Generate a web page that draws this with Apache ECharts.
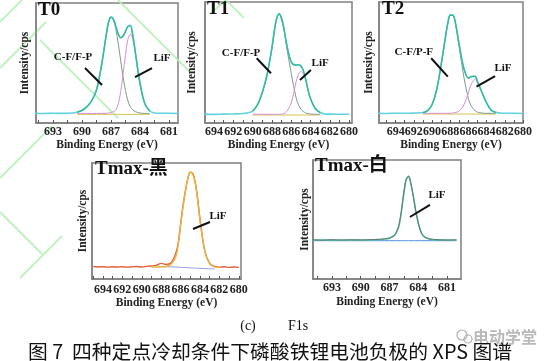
<!DOCTYPE html>
<html><head><meta charset="utf-8">
<script src="https://cdn.jsdelivr.net/npm/echarts@6/dist/echarts.min.js"></script>
<style>html,body{margin:0;padding:0;background:#fff}#c{width:558px;height:361px}</style>
</head><body><div id="c"></div>
<script>
// ---------------- DATA (binding energy in eV, intensity in % of panel height) ----------------
const E_T0 = [695,694,693,692,691,690.5,690,689.5,689,688.5,688,687.5,687.25,687,686.75,686.5,686.25,686,685.75,685.5,685.25,685,684.75,684.5,684,683.5,683,682.5,682,681,680];
const T0_RAW = [8.1,7.9,8.1,8,8.3,9,10.6,13.4,18.6,27.8,47.5,73,84.5,88.5,86.5,80.5,74.5,71,72.5,76.5,80.5,81.5,73.5,60,33.5,16,10.2,8.4,8.1,8.1,7.9];
const T0_FIT = [8,8,8,8,8.2,9,10.5,13.5,18.5,27.5,47,73,84,88,86.5,80.5,74,71,72.5,76.5,80.5,81,73,60,33,16,10,8.5,8.1,8,8];
const T0_CF  = [8,8,8,8,8.2,9,10.5,13.5,18.5,27.5,47,73,84,88,86,78,66,52,38,27,18.5,13.5,11,9.5,8.3,8,8,8,8,8,8];
const T0_LIF = [8,8,8,8,8,8,8,8,8,8,8,8.1,8.3,8.6,9.5,11,16,26,41,57,70,74,70,58,32,16,10,8.5,8.1,8,8];
const T0_BG  = [null,null,null,null,null,7.2,7.2,7.2,7.2,7.2,7.2,7.2,7.2,7.2,7.2,7.2,7.2,7.2,7.2,7.2,7.2,7.2,7.2,7.2,7.2,7.2,7.2,null,null,null,null];
const T0_LABELS = [681,684,687,690,693];
const T0_TICKS = [681,682.5,684,685.5,687,688.5,690,691.5,693,694.5];

const E_T1 = [695,694,693,692,691,690.5,690,689.5,689,688.5,688,687.75,687.5,687.25,687,686.75,686.5,686,685.5,685.25,685,684.75,684.5,684.25,684,683.5,683,682.5,682,681,680];
const T1_RAW = [7.3,7.1,7.3,7.5,7.8,8.5,9.9,15.2,25.5,40.5,62.5,76.5,87,90.5,86.5,78,66.5,50.5,48,48.3,47.3,43.5,36.3,27,20.2,12,8.7,7.5,7.3,7.2,7.2];
const T1_FIT = [7.2,7.2,7.3,7.4,7.9,8.4,9.8,15,25,40,62,76,86.5,90,86.5,78,66,50.5,47.8,48,47,43.5,36,27,20,11.8,8.6,7.6,7.3,7.2,7.2];
const T1_CF  = [7.2,7.2,7.3,7.4,7.9,8.4,9.8,15,25,40,62,76,86.5,90,85,77,64,41,21,15,11.5,9.5,8.3,7.7,7.4,7.2,7.2,7.2,7.2,7.2,7.2];
const T1_LIF = [7.2,7.2,7.2,7.2,7.2,7.2,7.2,7.2,7.2,7.2,7.2,7.2,7.2,7.25,7.3,7.8,9.2,16.5,34,40,42.5,41,35,26.5,19.8,11.8,8.6,7.6,7.3,7.2,7.2];
const T1_BG  = [null,null,null,null,null,null,6.6,6.6,6.6,6.6,6.6,6.6,6.6,6.6,6.6,6.6,6.6,6.6,6.6,6.6,6.6,6.6,6.6,6.6,6.6,6.6,6.6,null,null,null,null];
const T1_LABELS = [680,682,684,686,688,690,692,694];
const T1_TICKS = [680,681,682,683,684,685,686,687,688,689,690,691,692,693,694];

const E_T2 = [696,695,694,693,692,691,690.5,690,689.5,689,688.5,688.25,688,687.75,687.5,687,686.5,686,685.75,685.5,685.25,685,684.5,684,683.5,683,682.5,682,681,680];
const T2_RAW = [8.1,7.9,8.1,8,8.2,8.7,10.2,15.3,27.5,48.5,72.5,83.5,89.5,89.5,85.5,64.5,45.5,37.2,38.3,38.8,38.6,34.3,25.2,16.6,10.7,8.8,8.2,8,8.1,7.9];
const T2_FIT = [8,8,8,8,8.1,8.6,10,15,27,48,72,83,89,89,85.5,64,45,37,38,38.6,38.5,34,25,16.5,10.5,8.8,8.1,8,8,8];
const T2_CF  = [8,8,8,8,8.1,8.6,10,15,27,48,72,83,89,89,85,62,38,20,15,12,10,9,8.2,8,8,8,8,8,8,8];
const T2_LIF = [8,8,8,8,8,8,8,8,8,8,8,8,8,8.2,8.5,10,15,25,31,34.6,36.5,33,24.8,16.5,10.5,8.8,8.1,8,8,8];
const T2_BG  = [null,null,null,null,null,7.4,7.4,7.4,7.4,7.4,7.4,7.4,7.4,7.4,7.4,7.4,7.4,7.4,7.4,7.4,7.4,7.4,7.4,7.4,7.4,7.4,null,null,null,null];
const T2_LABELS = [680,682,684,686,688,690,692,694];
const T2_TICKS = [680,681,682,683,684,685,686,687,688,689,690,691,692,693,694,695];

const E_T3 = [695,694.5,694,693.5,693,692.5,692,691.5,691,690.5,690,689.5,689,688.5,688,687.5,687,686.5,686.25,686,685.75,685.5,685.25,685,684.75,684.5,684.25,684,683.5,683,682.5,682,681.5,681,680.5,680];
const T3_RAW = [10.8,10.4,10.6,10.2,10.5,10.3,10.6,10.2,10.5,10.8,10.4,10.9,11.2,11.8,13.5,12.6,13.8,22,30.5,47,63,76,86.5,92,91,84,70,52,24,13.5,10.8,10.2,10.5,10,10.3,10];
const T3_FIT = [10.3,10.3,10.3,10.3,10.3,10.3,10.3,10.3,10.3,10.3,10.3,10.3,10.3,10.3,10.4,10.8,12.5,19,29,46,62,76,87,92,90.5,83,69,51,24,13,10.5,10,10,10,10,10];
const T3_BG  = [null,null,null,null,null,null,null,null,null,null,null,null,null,null,10.7,10.6,10.5,10.3,10.2,10.1,10,9.9,9.75,9.6,9.5,9.4,9.3,9.2,9,8.8,8.7,null,null,null,null,null];
const T3_LABELS = [680,682,684,686,688,690,692,694];
const T3_TICKS = [680,681,682,683,684,685,686,687,688,689,690,691,692,693,694,695];

const E_T4 = [695,694,693,692,691,690,689,688.5,688,687.5,687,686.5,686.25,686,685.75,685.5,685.25,685,684.75,684.5,684.25,684,683.75,683.5,683,682.5,682,681,680];
const T4_RAW = [33,32.6,33,32.7,33,32.8,33.1,33.2,33.3,33.8,34.5,36.8,40,45.5,57.5,72.5,84,86.5,80,69,57,47,40.5,36.5,34,33.3,33,32.7,33];
const T4_FIT = [32.8,32.8,32.8,32.8,32.8,32.8,32.8,33,33.2,33.6,34.3,36.5,39.5,45,57,72,83.5,86,79.5,69,57,47.5,40.5,36.5,34,33.2,32.9,32.8,32.8];
const T4_BG  = [32.2,32.2,32.2,32.2,32.2,32.2,32.2,32.2,32.2,32.2,32.2,32.2,32.2,32.2,32.2,32.2,32.2,32.2,32.2,32.2,32.2,32.2,32.2,32.2,32.2,32.2,32.2,32.2,32.2];
const T4_LABELS = [681,684,687,690,693];
const T4_TICKS = [681,682.5,684,685.5,687,688.5,690,691.5,693,694.5];

// panel titles and annotations (annotation anchors in data units: [eV, %])
const TITLES = ['T0','T1','T2','Tmax-黑','Tmax-白'];
const ANNOTS = [
  {g:0, label:'C-F/F-P', text:[690.93,55], from:[689.69,45.8], to:[687.93,31.7]},
  {g:0, label:'LiF',     text:[681.73,54.2], from:[682.76,45.8], to:[684.52,38.3]},
  {g:1, label:'C-F/F-P', text:[691.2,57.9], from:[689.58,53.5], to:[688.1,41.1]},
  {g:1, label:'LiF',     text:[683.0,49.6], from:[683.96,43.8], to:[685.1,35.5]},
  {g:2, label:'C-F/P-F', text:[692.0,58.7], from:[690.09,53.5], to:[688.27,38.3]},
  {g:2, label:'LiF',     text:[682.2,45.5], from:[683.07,38.8], to:[685.11,30]},
  {g:3, label:'LiF',     text:[682.14,54.3], from:[682.97,49.1], to:[684.72,43.1]},
  {g:4, label:'LiF',     text:[682.04,70.6], from:[682.77,62.2], to:[684.86,52.1]}
];

// ---------------- LAYOUT / STYLE ----------------
const SERIF = '"Liberation Serif","Times New Roman","Noto Sans CJK SC",serif';
const CJK = '"Noto Sans CJK SC","Noto Sans",sans-serif';
const FRAME = '#808080';

const PANELS = [
  {grid:{left:36,top:3,width:142,height:120}, min:680.07, max:694.76, labels:T0_LABELS, ticks:T0_TICKS, yGap:5, lblMargin:3, xGap:16, title:[38,1]},
  {grid:{left:205,top:2,width:147,height:121}, min:679.7, max:694.94, labels:T1_LABELS, ticks:T1_TICKS, yGap:7, lblMargin:3, xGap:16, title:[207,0]},
  {grid:{left:379,top:2,width:144,height:121}, min:680, max:695.83, labels:T2_LABELS, ticks:T2_TICKS, yGap:4, lblMargin:3, xGap:16, title:[382,0]},
  {grid:{left:92,top:163,width:149,height:116}, min:679.77, max:695.13, labels:T3_LABELS, ticks:T3_TICKS, yGap:3, lblMargin:5, xGap:18, title:[95,160]},
  {grid:{left:313,top:160,width:148,height:119}, min:679.53, max:694.98, labels:T4_LABELS, ticks:T4_TICKS, yGap:2, lblMargin:3, xGap:17, title:[315,157]}
];

function pts(E, V, lo, hi) {
  const out = [];
  for (let i = 0; i < E.length; i++) {
    if (V[i] == null) continue;
    if (lo != null && (E[i] < lo || E[i] > hi)) continue;
    out.push([E[i], V[i]]);
  }
  return out;
}
function ser(g, data, color, width, z) {
  return {type:'line', xAxisIndex:g, yAxisIndex:g, data:data, showSymbol:false, symbol:'none',
    smooth:0.35, lineStyle:{color:color, width:width}, z:z, silent:true, animation:false, clip:true};
}

const series = [
  ser(0, pts(E_T0,T0_BG), '#d6c24a', 1, 2),
  ser(0, pts(E_T0,T0_CF,683,690.5), '#7f9a8c', 1, 3),
  ser(0, pts(E_T0,T0_LIF,683,690.5), '#d58fd6', 1, 3),
  ser(0, pts(E_T0,T0_RAW), '#62d2de', 1.6, 4),
  ser(0, pts(E_T0,T0_FIT,683,690.5), '#35b994', 1.3, 5),

  ser(1, pts(E_T1,T1_BG), '#d6c24a', 1, 2),
  ser(1, pts(E_T1,T1_CF,683,690), '#7f9a8c', 1, 3),
  ser(1, pts(E_T1,T1_LIF,683,690), '#d58fd6', 1, 3),
  ser(1, pts(E_T1,T1_RAW), '#62d2de', 1.6, 4),
  ser(1, pts(E_T1,T1_FIT,683,690), '#35b994', 1.3, 5),

  ser(2, pts(E_T2,T2_BG), '#d6c24a', 1, 2),
  ser(2, pts(E_T2,T2_CF,683,691), '#7f9a8c', 1, 3),
  ser(2, pts(E_T2,T2_LIF,683,691), '#d58fd6', 1, 3),
  ser(2, pts(E_T2,T2_RAW), '#62d2de', 1.6, 4),
  ser(2, pts(E_T2,T2_FIT,683,691), '#35b994', 1.3, 5),

  ser(3, pts(E_T3,T3_BG), '#9d9be6', 1, 2),
  ser(3, pts(E_T3,T3_RAW), '#e2603c', 1.4, 3),
  ser(3, pts(E_T3,T3_FIT,682,689), '#ebb43a', 1.4, 4),

  ser(4, pts(E_T4,T4_BG), '#4f8fe0', 1, 2),
  ser(4, pts(E_T4,T4_FIT), '#4fc3a0', 1.6, 3),
  ser(4, pts(E_T4,T4_RAW), '#66736c', 0.9, 4)
];

const grids = PANELS.map(p => Object.assign({show:true, borderColor:FRAME, borderWidth:1.5, containLabel:false}, p.grid));
const xAxes = PANELS.map((p,i) => ({
  type:'value', gridIndex:i, inverse:true, min:p.min, max:p.max,
  axisLine:{show:true, lineStyle:{color:FRAME, width:1.5}},
  axisTick:{show:true, inside:true, length:3, customValues:p.ticks, lineStyle:{color:'#555', width:1}},
  axisLabel:{show:true, customValues:p.labels, margin:p.lblMargin, fontFamily:SERIF, fontWeight:'bold', fontSize:12, color:'#222'},
  splitLine:{show:false},
  name:'Binding Energy (eV)', nameLocation:'middle', nameGap:p.xGap,
  nameTextStyle:{fontFamily:SERIF, fontWeight:'bold', fontSize:11.5, color:'#222'}
}));
const yAxes = PANELS.map((p,i) => ({
  type:'value', gridIndex:i, min:0, max:100,
  axisLine:{show:true, lineStyle:{color:FRAME, width:1.5}},
  axisTick:{show:false}, axisLabel:{show:false}, splitLine:{show:false},
  name:'Intensity/cps', nameLocation:'middle', nameRotate:90, nameGap:p.yGap,
  nameTextStyle:{fontFamily:SERIF, fontWeight:'bold', fontSize:11.5, color:'#222'}
}));

// background watermark lines (light green) and fixed captions
const WM_LINES = [[0,22,22,0],[0,68,46,22],[40,40,118,118],[118,0,190,72],[0,178,52,126],[0,212,42,254],[62,236,20,278],[210,14,226,0],[226,0,244,18]];
const staticGraphics = [];
WM_LINES.forEach(l => staticGraphics.push({type:'line', z:0, silent:true,
  shape:{x1:l[0],y1:l[1],x2:l[2],y2:l[3]}, style:{stroke:'#b6f0b6', lineWidth:2, opacity:0.85}}));
PANELS.forEach((p,i) => staticGraphics.push({type:'text', x:p.title[0], y:p.title[1], z:10,
  style:{text:TITLES[i], font:'bold 19px ' + SERIF, fill:'#111', textAlign:'left', textVerticalAlign:'top', align:'left', verticalAlign:'top'}}));
staticGraphics.push({type:'text', x:248, y:326, style:{text:'(c)', font:'14px ' + SERIF, fill:'#111', textAlign:'center', textVerticalAlign:'middle', align:'center', verticalAlign:'middle'}});
staticGraphics.push({type:'text', x:298, y:326, style:{text:'F1s', font:'14px ' + SERIF, fill:'#111', textAlign:'center', textVerticalAlign:'middle', align:'center', verticalAlign:'middle'}});
staticGraphics.push({type:'circle', shape:{cx:462, cy:335, r:5}, style:{fill:'none', stroke:'#b0b0b0', lineWidth:1.2}});
staticGraphics.push({type:'circle', shape:{cx:468, cy:339, r:4}, style:{fill:'none', stroke:'#b0b0b0', lineWidth:1.2}});
staticGraphics.push({type:'text', x:473, y:337, style:{text:'电动学堂', font:'bold 16px ' + CJK, fill:'#a8a8a8', opacity:0.8, textAlign:'left', textVerticalAlign:'middle', align:'left', verticalAlign:'middle'}});
staticGraphics.push({type:'text', x:28, y:351, z:20, style:{text:'图 7  四种定点冷却条件下磷酸铁锂电池负极的 XPS 图谱', font:'19.8px ' + CJK, fill:'#111', textAlign:'left', textVerticalAlign:'middle', align:'left', verticalAlign:'middle'}});

const chart = echarts.init(document.getElementById('c'), null, {renderer:'canvas'});
chart.setOption({
  animation:false, backgroundColor:'#fff',
  grid:grids, xAxis:xAxes, yAxis:yAxes, series:series,
  graphic:{elements:staticGraphics}
});

// annotations placed through the axes' own coordinate conversion
const ann = [];
ANNOTS.forEach(a => {
  const t = chart.convertToPixel({gridIndex:a.g}, a.text);
  const p1 = chart.convertToPixel({gridIndex:a.g}, a.from);
  const p2 = chart.convertToPixel({gridIndex:a.g}, a.to);
  ann.push({type:'text', x:t[0], y:t[1], z:10, style:{text:a.label, font:'bold 11px ' + SERIF, fill:'#111',
    textAlign:'center', textVerticalAlign:'middle', align:'center', verticalAlign:'middle'}});
  ann.push({type:'line', z:10, shape:{x1:p1[0], y1:p1[1], x2:p2[0], y2:p2[1]}, style:{stroke:'#111', lineWidth:2}});
});
chart.setOption({graphic:{elements:staticGraphics.concat(ann)}}, {replaceMerge:['graphic']});
</script></body></html>
